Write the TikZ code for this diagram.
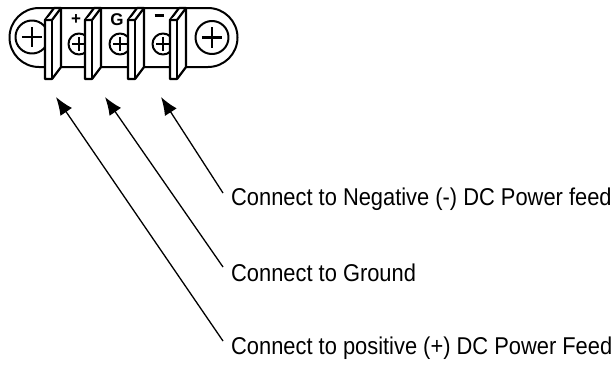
\documentclass[tikz,border=0pt]{standalone}
\usepackage{fontspec}
\setmainfont{Liberation Sans}
\newfontfamily\narrowfont[FakeStretch=0.9]{Liberation Sans}
\usetikzlibrary{arrows.meta}
\tikzset{
  outline/.style={draw=black,line width=2pt,line join=round},
  barrierline/.style={draw=black,fill=white,line width=2.2pt,line join=round},
  screwcross/.style={draw=black,line width=2.6pt},
  caption/.style={inner sep=0pt,anchor=base west,font=\narrowfont\fontsize{24.3}{28}\selectfont},
  blockmark/.style={inner sep=0pt,font=\bfseries\fontsize{17}{19}\selectfont},
  pointer/.style={draw=black,line width=1.3pt,-{Latex[length=18pt,width=14pt]}}
}
\newcommand{\barrierat}[1]{%
  \begin{scope}[shift={(#1,0)}]
    \draw[barrierline] (45,20) -- (54,8) -- (61,8) -- (61,67) -- (52,79) -- (45,79) -- cycle;
    \draw[barrierline] (45,20) -- (52,20) -- (61,8);
    \draw[barrierline] (52,20) -- (52,79);
  \end{scope}}
\newcommand{\screwat}[3]{%
  \draw[outline,fill=white] (#1,#2) circle (#3);
  \draw[screwcross] ({#1-0.62*#3},#2) -- ({#1+0.62*#3},#2);
  \draw[screwcross] (#1,{#2-0.62*#3}) -- (#1,{#2+0.62*#3});}
\begin{document}
\begin{tikzpicture}[x=1pt,y=-1pt]
\useasboundingbox (0,0) rectangle (615,364);
% body
\draw[outline] (39,8) -- (208,8) arc[start angle=-90,end angle=90,radius=29.5] -- (39,67) arc[start angle=90,end angle=270,radius=29.5] -- cycle;
% screws
\screwat{32}{37}{16.5}
\screwat{212}{37.5}{16.5}
\screwat{79}{44}{10.5}
\screwat{120}{44}{10.5}
\screwat{163}{44}{10.5}
% barriers
\barrierat{0}
\barrierat{40}
\barrierat{83}
\barrierat{125}
% labels on the block
\node[blockmark] (plus) at (76,20) {+};
\node[blockmark] (gnd) at (117,20) {G};
\node[blockmark] (minus) at (159,15.5) {\rule{9pt}{2.5pt}};
% arrow ends
\coordinate (tipa) at (56,97);
\coordinate (tipb) at (105,97);
\coordinate (tipc) at (161,97);
\coordinate (taila) at (223,341);
\coordinate (tailb) at (223,267);
\coordinate (tailc) at (223,193);
% texts
\node[caption] (negtext) at (231,205) {Connect to Negative (-) DC Power feed};
\node[caption] (gndtext) at (231,281) {Connect to Ground};
\node[caption] (postext) at (231,354) {Connect to positive (+) DC Power Feed};
\draw[pointer] (tailc) -- (tipc);
\draw[pointer] (tailb) -- (tipb);
\draw[pointer] (taila) -- (tipa);
\end{tikzpicture}
\end{document}
